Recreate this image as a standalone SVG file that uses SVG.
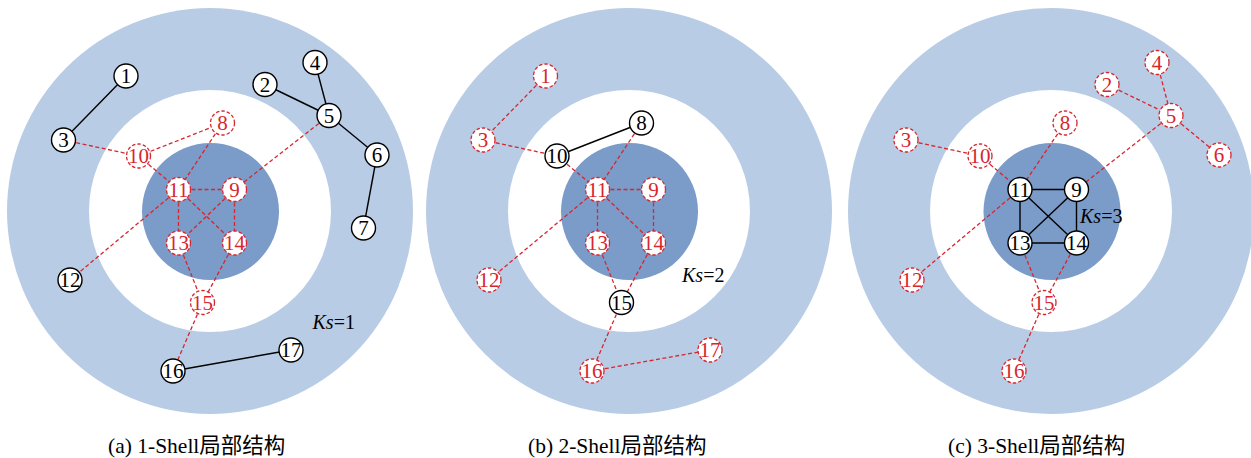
<svg xmlns="http://www.w3.org/2000/svg" width="1251" height="458" viewBox="0 0 1251 458">
<style>
.outer{fill:#B9CCE5}
.mid{fill:#FFFFFF}
.inner{fill:#7B9BC9}
.eb{stroke:#000;stroke-width:1.4;fill:none}
.er{stroke:#D7262E;stroke-width:1.3;stroke-dasharray:4 2.5;fill:none}
.nb circle{fill:#fff;stroke:#000;stroke-width:1.4}
.nr circle{fill:#fff;stroke:#D7262E;stroke-width:1.3;stroke-dasharray:3.5 2}
.nb text,.nr text{font-size:21px;text-anchor:middle}
.nb text{fill:#000}
.nr text{fill:#D7262E}
.ks{font-size:20px;fill:#000}
.cap{font-size:21.5px;fill:#000}
</style>
<rect width="1251" height="458" fill="#fff"/>

<!-- Panel (a) -->
<g id="panel-a" font-family="'Liberation Serif', serif">
<g id="a-shells">
<circle class="outer" cx="210" cy="211" r="203"/>
<circle class="mid" cx="210" cy="211" r="121"/>
<circle class="inner" cx="210.5" cy="211.5" r="68.5"/>
</g>
<g id="a-connectors">
<line class="eb" x1="126" y1="76" x2="63.5" y2="140"/>
<line class="eb" x1="265" y1="84.5" x2="329" y2="115.5"/>
<line class="eb" x1="315" y1="62.5" x2="329" y2="115.5"/>
<line class="eb" x1="329" y1="115.5" x2="377" y2="155"/>
<line class="eb" x1="377" y1="155" x2="363.5" y2="228"/>
<line class="eb" x1="173" y1="371" x2="291" y2="350"/>
<line class="er" x1="63.5" y1="140" x2="138.5" y2="156"/>
<line class="er" x1="138.5" y1="156" x2="222.5" y2="123"/>
<line class="er" x1="138.5" y1="156" x2="178.5" y2="189.5"/>
<line class="er" x1="222.5" y1="123" x2="178.5" y2="189.5"/>
<line class="er" x1="329" y1="115.5" x2="234.5" y2="189.5"/>
<line class="er" x1="178.5" y1="189.5" x2="234.5" y2="189.5"/>
<line class="er" x1="178.5" y1="189.5" x2="178.5" y2="243"/>
<line class="er" x1="178.5" y1="189.5" x2="234.5" y2="243"/>
<line class="er" x1="234.5" y1="189.5" x2="178.5" y2="243"/>
<line class="er" x1="234.5" y1="189.5" x2="234.5" y2="243"/>
<line class="er" x1="178.5" y1="189.5" x2="70" y2="280"/>
<line class="er" x1="178.5" y1="243" x2="202.5" y2="302.5"/>
<line class="er" x1="234.5" y1="243" x2="202.5" y2="302.5"/>
<line class="er" x1="202.5" y1="302.5" x2="173" y2="371"/>
</g>
<g id="a-n1" class="nb"><circle cx="126" cy="76" r="12"/><text x="126" y="83">1</text></g>
<g id="a-n2" class="nb"><circle cx="265" cy="84.5" r="12"/><text x="265" y="91.5">2</text></g>
<g id="a-n3" class="nb"><circle cx="63.5" cy="140" r="12"/><text x="63.5" y="147">3</text></g>
<g id="a-n4" class="nb"><circle cx="315" cy="62.5" r="12"/><text x="315" y="69.5">4</text></g>
<g id="a-n5" class="nb"><circle cx="329" cy="115.5" r="12"/><text x="329" y="122.5">5</text></g>
<g id="a-n6" class="nb"><circle cx="377" cy="155" r="12"/><text x="377" y="162">6</text></g>
<g id="a-n7" class="nb"><circle cx="363.5" cy="228" r="12"/><text x="363.5" y="235">7</text></g>
<g id="a-n8" class="nr"><circle cx="222.5" cy="123" r="12"/><text x="222.5" y="130">8</text></g>
<g id="a-n9" class="nr"><circle cx="234.5" cy="189.5" r="12"/><text x="234.5" y="196.5">9</text></g>
<g id="a-n10" class="nr"><circle cx="138.5" cy="156" r="12"/><text x="138.5" y="163">10</text></g>
<g id="a-n11" class="nr"><circle cx="178.5" cy="189.5" r="12"/><text x="178.5" y="196.5">11</text></g>
<g id="a-n12" class="nb"><circle cx="70" cy="280" r="12"/><text x="70" y="287">12</text></g>
<g id="a-n13" class="nr"><circle cx="178.5" cy="243" r="12"/><text x="178.5" y="250">13</text></g>
<g id="a-n14" class="nr"><circle cx="234.5" cy="243" r="12"/><text x="234.5" y="250">14</text></g>
<g id="a-n15" class="nr"><circle cx="202.5" cy="302.5" r="12"/><text x="202.5" y="309.5">15</text></g>
<g id="a-n16" class="nb"><circle cx="173" cy="371" r="12"/><text x="173" y="378">16</text></g>
<g id="a-n17" class="nb"><circle cx="291" cy="350" r="12"/><text x="291" y="357">17</text></g>
<text class="ks" x="312.5" y="329"><tspan font-style="italic">Ks</tspan>=1</text>
</g>

<!-- Panel (b) -->
<g id="panel-b" transform="translate(419,0)" font-family="'Liberation Serif', serif">
<g id="b-shells">
<circle class="outer" cx="210" cy="211" r="203"/>
<circle class="mid" cx="210" cy="211" r="121"/>
<circle class="inner" cx="210.5" cy="211.5" r="68.5"/>
</g>
<g id="b-connectors">
<line class="er" x1="126.5" y1="76" x2="64" y2="140"/>
<line class="er" x1="64" y1="140" x2="138" y2="156"/>
<line class="eb" x1="138" y1="156" x2="222.5" y2="123"/>
<line class="er" x1="138" y1="156" x2="178.5" y2="189.5"/>
<line class="er" x1="222.5" y1="123" x2="178.5" y2="189.5"/>
<line class="er" x1="178.5" y1="189.5" x2="234.5" y2="189.5"/>
<line class="er" x1="178.5" y1="189.5" x2="178.5" y2="243"/>
<line class="er" x1="178.5" y1="189.5" x2="234.5" y2="243"/>
<line class="er" x1="234.5" y1="189.5" x2="234.5" y2="243"/>
<line class="er" x1="178.5" y1="189.5" x2="70" y2="280"/>
<line class="er" x1="178.5" y1="243" x2="202.5" y2="302.5"/>
<line class="er" x1="234.5" y1="243" x2="202.5" y2="302.5"/>
<line class="er" x1="202.5" y1="302.5" x2="173" y2="371"/>
<line class="er" x1="173" y1="371" x2="291" y2="350"/>
</g>
<g id="b-n1" class="nr"><circle cx="126.5" cy="76" r="12"/><text x="126.5" y="83">1</text></g>
<g id="b-n3" class="nr"><circle cx="64" cy="140" r="12"/><text x="64" y="147">3</text></g>
<g id="b-n8" class="nb"><circle cx="222.5" cy="123" r="12"/><text x="222.5" y="130">8</text></g>
<g id="b-n9" class="nr"><circle cx="234.5" cy="189.5" r="12"/><text x="234.5" y="196.5">9</text></g>
<g id="b-n10" class="nb"><circle cx="138" cy="156" r="12"/><text x="138" y="163">10</text></g>
<g id="b-n11" class="nr"><circle cx="178.5" cy="189.5" r="12"/><text x="178.5" y="196.5">11</text></g>
<g id="b-n12" class="nr"><circle cx="70" cy="280" r="12"/><text x="70" y="287">12</text></g>
<g id="b-n13" class="nr"><circle cx="178.5" cy="243" r="12"/><text x="178.5" y="250">13</text></g>
<g id="b-n14" class="nr"><circle cx="234.5" cy="243" r="12"/><text x="234.5" y="250">14</text></g>
<g id="b-n15" class="nb"><circle cx="202.5" cy="302.5" r="12"/><text x="202.5" y="309.5">15</text></g>
<g id="b-n16" class="nr"><circle cx="173" cy="371" r="12"/><text x="173" y="378">16</text></g>
<g id="b-n17" class="nr"><circle cx="291" cy="350" r="12"/><text x="291" y="357">17</text></g>
<text class="ks" x="263" y="282"><tspan font-style="italic">Ks</tspan>=2</text>
</g>

<!-- Panel (c) -->
<g id="panel-c" transform="translate(842,0)" font-family="'Liberation Serif', serif">
<g id="c-shells">
<circle class="outer" cx="209" cy="211" r="203"/>
<circle class="mid" cx="209" cy="211" r="121"/>
<circle class="inner" cx="210" cy="211.5" r="68.5"/>
</g>
<g id="c-connectors">
<line class="er" x1="265" y1="84.5" x2="329" y2="115.5"/>
<line class="er" x1="315" y1="62.5" x2="329" y2="115.5"/>
<line class="er" x1="329" y1="115.5" x2="377" y2="155"/>
<line class="er" x1="329" y1="115.5" x2="234.5" y2="189.5"/>
<line class="er" x1="64" y1="140" x2="138" y2="156"/>
<line class="er" x1="138" y1="156" x2="178" y2="189.5"/>
<line class="er" x1="223" y1="123" x2="178" y2="189.5"/>
<line class="er" x1="178" y1="189.5" x2="70" y2="280"/>
<line class="er" x1="178" y1="243" x2="202" y2="302.5"/>
<line class="er" x1="234.5" y1="243" x2="202" y2="302.5"/>
<line class="er" x1="202" y1="302.5" x2="172" y2="371"/>
<line class="eb" x1="178" y1="189.5" x2="234.5" y2="189.5"/>
<line class="eb" x1="178" y1="189.5" x2="178" y2="243"/>
<line class="eb" x1="178" y1="189.5" x2="234.5" y2="243"/>
<line class="eb" x1="234.5" y1="189.5" x2="178" y2="243"/>
<line class="eb" x1="234.5" y1="189.5" x2="234.5" y2="243"/>
<line class="eb" x1="178" y1="243" x2="234.5" y2="243"/>
</g>
<g id="c-n2" class="nr"><circle cx="265" cy="84.5" r="12"/><text x="265" y="91.5">2</text></g>
<g id="c-n3" class="nr"><circle cx="64" cy="140" r="12"/><text x="64" y="147">3</text></g>
<g id="c-n4" class="nr"><circle cx="315" cy="62.5" r="12"/><text x="315" y="69.5">4</text></g>
<g id="c-n5" class="nr"><circle cx="329" cy="115.5" r="12"/><text x="329" y="122.5">5</text></g>
<g id="c-n6" class="nr"><circle cx="377" cy="155" r="12"/><text x="377" y="162">6</text></g>
<g id="c-n8" class="nr"><circle cx="223" cy="123" r="12"/><text x="223" y="130">8</text></g>
<g id="c-n9" class="nb"><circle cx="234.5" cy="189.5" r="12"/><text x="234.5" y="196.5">9</text></g>
<g id="c-n10" class="nr"><circle cx="138" cy="156" r="12"/><text x="138" y="163">10</text></g>
<g id="c-n11" class="nb"><circle cx="178" cy="189.5" r="12"/><text x="178" y="196.5">11</text></g>
<g id="c-n12" class="nr"><circle cx="70" cy="280" r="12"/><text x="70" y="287">12</text></g>
<g id="c-n13" class="nb"><circle cx="178" cy="243" r="12"/><text x="178" y="250">13</text></g>
<g id="c-n14" class="nb"><circle cx="234.5" cy="243" r="12"/><text x="234.5" y="250">14</text></g>
<g id="c-n15" class="nr"><circle cx="202" cy="302.5" r="12"/><text x="202" y="309.5">15</text></g>
<g id="c-n16" class="nr"><circle cx="172" cy="371" r="12"/><text x="172" y="378">16</text></g>
<text class="ks" x="238" y="223"><tspan font-style="italic">Ks</tspan>=3</text>
</g>

<g id="captions" font-family="'Liberation Serif', 'Noto Sans CJK SC', serif">
<text class="cap" x="108" y="453">(a) 1-Shell局部结构</text>
<text class="cap" x="528" y="453">(b) 2-Shell局部结构</text>
<text class="cap" x="948" y="453">(c) 3-Shell局部结构</text>
</g>
</svg>
